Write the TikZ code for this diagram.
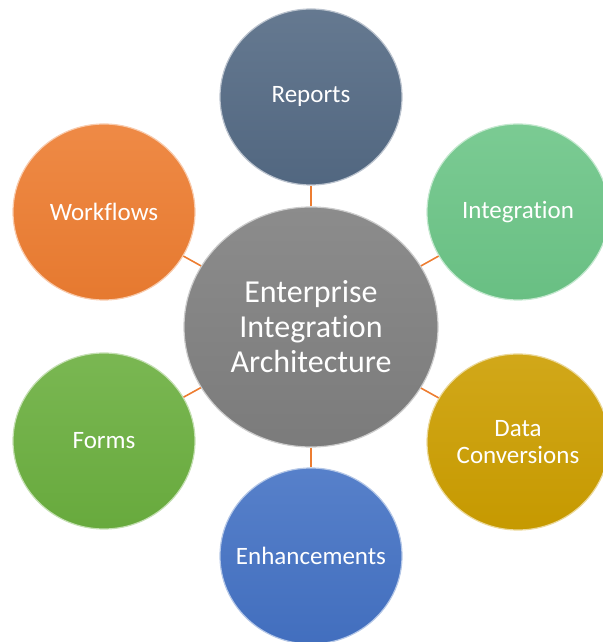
\documentclass[tikz,border=0pt]{standalone}
\usepackage{fontspec}
\setmainfont{Carlito}[Ligatures=NoCommon]
\usepackage{tikz}
\usetikzlibrary{shapes.geometric}

\definecolor{linkorange}{HTML}{ED7D31}
\definecolor{hubgrey}{HTML}{7F7F7F}
\definecolor{reportsblue}{HTML}{546A84}
\definecolor{integrgreen}{HTML}{6CC587}
\definecolor{convgold}{HTML}{CC9E00}
\definecolor{enhblue}{HTML}{4472C4}
\definecolor{formsgreen}{HTML}{6BAF3F}
\definecolor{flowsorange}{HTML}{ED7D31}

\tikzset{
	ball/.style={ellipse, minimum width=182pt, minimum height=176pt,
		inner xsep=-20pt, inner ysep=0pt,
		align=center, text=white, font=\fontsize{25}{27}\selectfont,
		top color=#1!90!white, bottom color=#1!97!black, draw=#1!40!white, line width=1.2pt},
	hub/.style={ball=hubgrey, minimum width=254pt, minimum height=240pt,
		font=\fontsize{32}{35}\selectfont},
	link/.style={draw=linkorange, line width=1.6pt}
}

\begin{document}
\begin{tikzpicture}[x=1pt,y=1pt]
	\useasboundingbox (0,0) rectangle (602,642);
	\node[hub] (eia) at (311,315) {Enterprise\\Integration\\Architecture};
	\node[ball=reportsblue] (reports) at (311,545) {Reports};
	\node[ball=integrgreen] (integration) at (518,430) {Integration};
	\node[ball=convgold] (conversions) at (518,200) {Data\\Conversions};
	\node[ball=enhblue] (enhancements) at (311,86) {Enhancements};
	\node[ball=formsgreen] (forms) at (104,201) {Forms};
	\node[ball=flowsorange] (workflows) at (104,430) {Workflows};
	% spokes
	\draw[link] (eia) -- (reports);
	\draw[link] (eia) -- (integration);
	\draw[link] (eia) -- (conversions);
	\draw[link] (eia) -- (enhancements);
	\draw[link] (eia) -- (forms);
	\draw[link] (eia) -- (workflows);
\end{tikzpicture}
\end{document}
